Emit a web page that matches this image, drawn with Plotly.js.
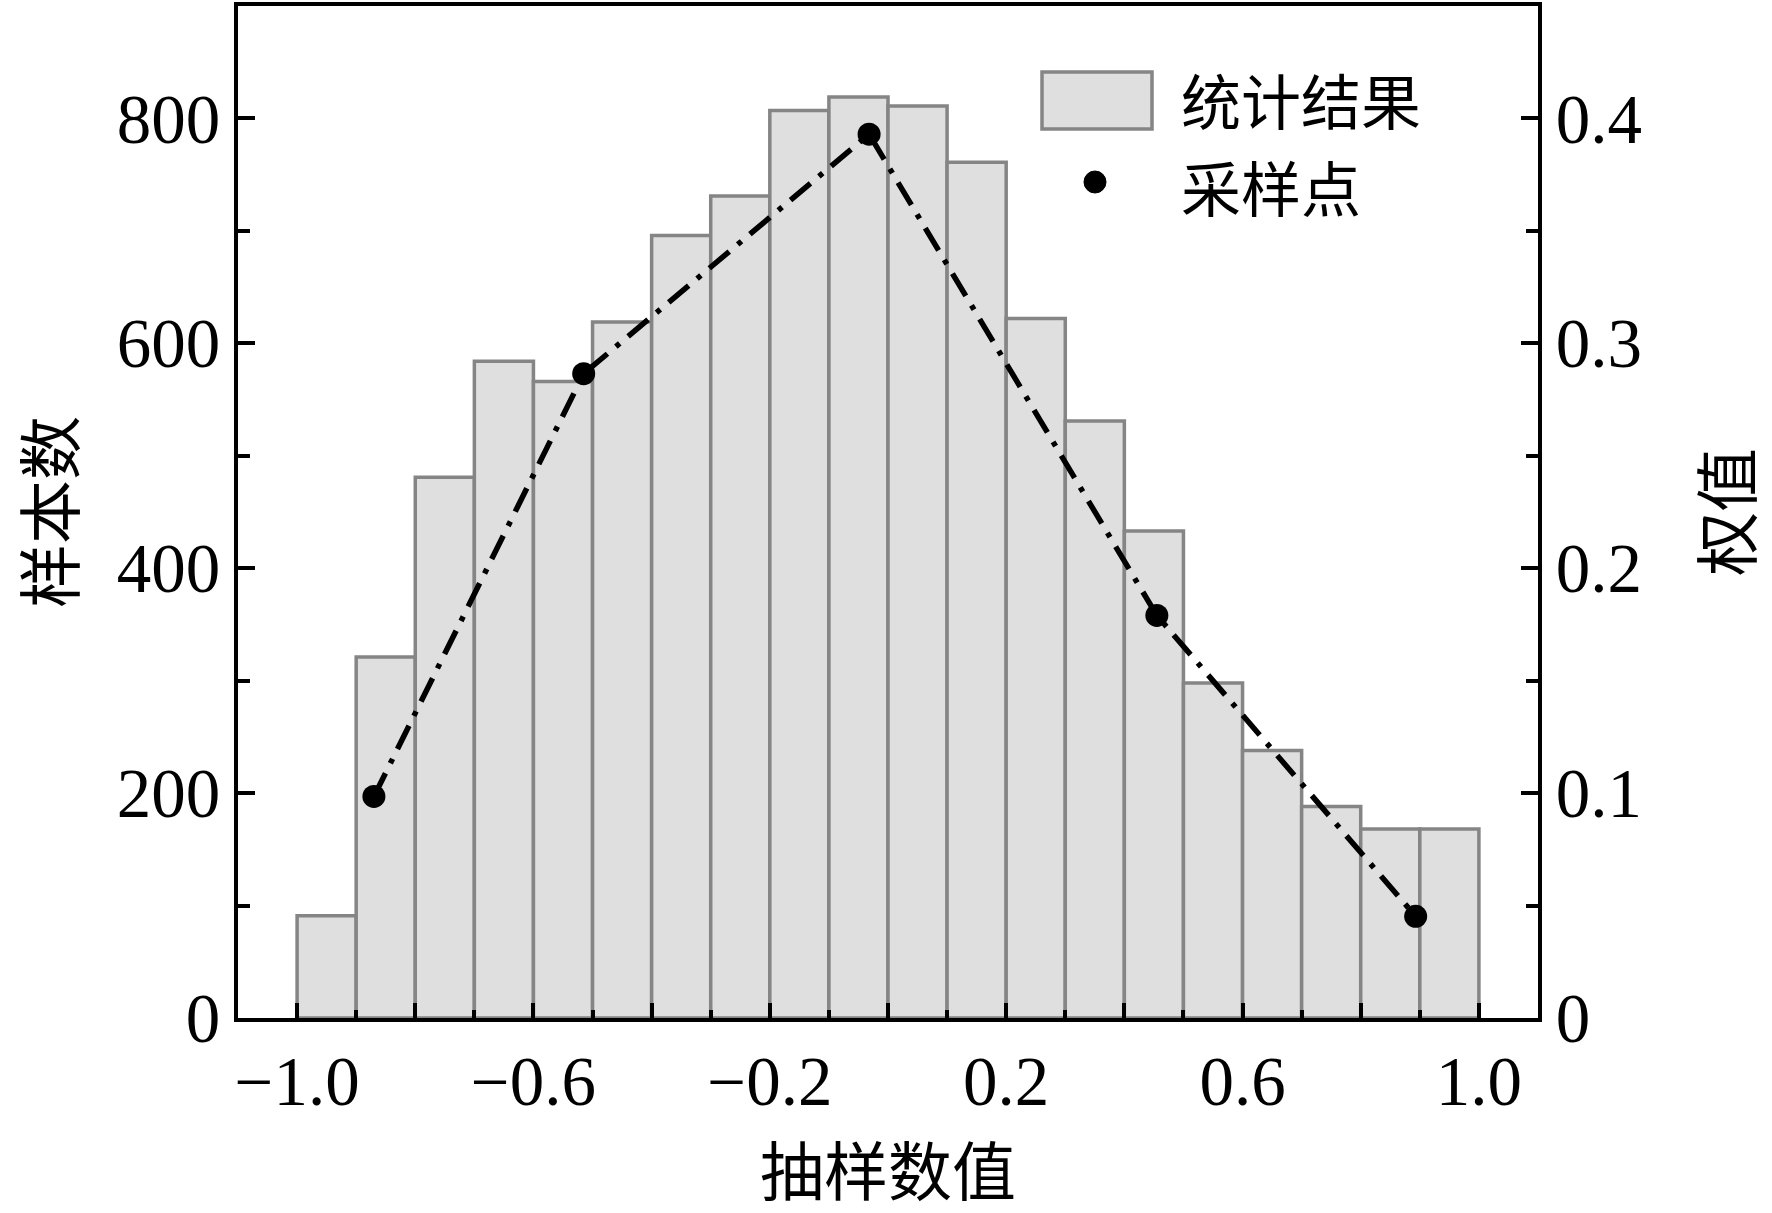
<!DOCTYPE html>
<html>
<head>
<meta charset="utf-8">
<script src="https://cdn.plot.ly/plotly-3.0.1.min.js"></script>
<style>
  html, body { margin: 0; padding: 0; background: #fff; }
  #graph { width: 1772px; height: 1213px; }
</style>
</head>
<body>
<div id="graph"></div>
<script>
// histogram bins (centre of each 0.1 wide bin) and counts
const binCenters = [-0.95, -0.85, -0.75, -0.65, -0.55, -0.45, -0.35, -0.25, -0.15, -0.05,
                    0.05, 0.15, 0.25, 0.35, 0.45, 0.55, 0.65, 0.75, 0.85, 0.95];
const binCounts = [91, 321, 481, 584, 566, 619, 696, 731, 807, 819,
                   811, 761, 622, 531, 433, 298, 238, 188, 168, 168];

// sampling points and their weights (right axis)
const sampleX = [-0.87, -0.515, -0.032, 0.455, 0.893];
const sampleW = [0.0985, 0.2865, 0.393, 0.179, 0.0452];

const xTickVals = [-1.0, -0.8, -0.6, -0.4, -0.2, 0.0, 0.2, 0.4, 0.6, 0.8, 1.0];
const xTickText = ['\u22121.0', '', '\u22120.6', '', '\u22120.2', '', '0.2', '', '0.6', '', '1.0'];

const legendNames = ['统计结果', '采样点'];

const serif = 'Liberation Serif, Times New Roman, serif';
const cjk = 'Noto Sans CJK SC, sans-serif';

// plot box in pixels, used to place the hand made legend
const W = 1772, H = 1213;
const box = {l: 238, r: 1538, t: 6, b: 1018};
function px(x) { return (x - box.l) / (box.r - box.l); }
function py(y) { return (box.b - y) / (box.b - box.t); }

const bars = {
  type: 'bar',
  x: binCenters,
  y: binCounts,
  width: 0.1,
  name: legendNames[0],
  showlegend: false,
  marker: {
    color: '#dfdfdf',
    line: {color: '#858585', width: 3.5}
  },
  hoverinfo: 'x+y'
};

const samples = {
  type: 'scatter',
  mode: 'lines+markers',
  x: sampleX,
  y: sampleW,
  yaxis: 'y2',
  name: legendNames[1],
  showlegend: false,
  line: {color: '#000', width: 5.5, dash: '26px,11px,5px,11px'},
  marker: {color: '#000', size: 23}
};

const axisCommon = {
  showline: true,
  linecolor: '#000',
  linewidth: 4,
  ticks: 'inside',
  ticklen: 16,
  tickwidth: 4,
  tickcolor: '#000',
  showgrid: false,
  zeroline: false,
  tickfont: {family: serif, size: 69, color: '#000'}
};

const layout = {
  width: W,
  height: H,
  margin: {l: box.l, r: W - box.r, t: box.t, b: H - box.b, pad: 0},
  paper_bgcolor: '#fff',
  plot_bgcolor: '#fff',
  bargap: 0,
  showlegend: false,
  xaxis: Object.assign({}, axisCommon, {
    range: [-1.1, 1.1],
    tickmode: 'array',
    tickvals: xTickVals,
    ticktext: xTickText,
    ticklen: 15,
    mirror: true,
    minor: {dtick: 0.1, tick0: 0, ticks: 'inside', ticklen: 8, tickwidth: 4, tickcolor: '#000'},
    title: {text: '抽样数值', font: {family: cjk, size: 64, color: '#000'}, standoff: 36},
    automargin: false
  }),
  yaxis: Object.assign({}, axisCommon, {
    range: [0, 900],
    tickvals: [0, 200, 400, 600, 800],
    ticklen: 17,
    minor: {dtick: 100, ticks: 'inside', ticklen: 12, tickwidth: 4, tickcolor: '#000'},
    title: {text: '样本数', font: {family: cjk, size: 64, color: '#000'}, standoff: 58},
    automargin: false
  }),
  yaxis2: Object.assign({}, axisCommon, {
    overlaying: 'y',
    side: 'right',
    range: [0, 0.45],
    tickvals: [0, 0.1, 0.2, 0.3, 0.4],
    ticktext: ['0', '0.1', '0.2', '0.3', '0.4'],
    ticklen: 17,
    minor: {dtick: 0.05, ticks: 'inside', ticklen: 12, tickwidth: 4, tickcolor: '#000'},
    title: {text: '权值', font: {family: cjk, size: 64, color: '#000'}, standoff: 66},
    automargin: false
  }),
  shapes: [
    {type: 'rect', xref: 'paper', yref: 'paper',
     x0: px(1042), x1: px(1152), y0: py(129), y1: py(72),
     fillcolor: '#dfdfdf', line: {color: '#858585', width: 3.5}},
    {type: 'circle', xref: 'paper', yref: 'paper',
     x0: px(1084), x1: px(1106), y0: py(193), y1: py(171),
     fillcolor: '#000', line: {color: '#000', width: 1}}
  ],
  annotations: [
    {xref: 'paper', yref: 'paper', x: px(1180), y: py(98), xanchor: 'left', yanchor: 'middle',
     text: legendNames[0], showarrow: false, borderpad: 0,
     font: {family: cjk, size: 60, color: '#000'}},
    {xref: 'paper', yref: 'paper', x: px(1180), y: py(186), xanchor: 'left', yanchor: 'middle',
     text: legendNames[1], showarrow: false, borderpad: 0,
     font: {family: cjk, size: 60, color: '#000'}}
  ]
};

Plotly.newPlot('graph', [bars, samples], layout, {displayModeBar: false, staticPlot: true});
</script>
</body>
</html>
